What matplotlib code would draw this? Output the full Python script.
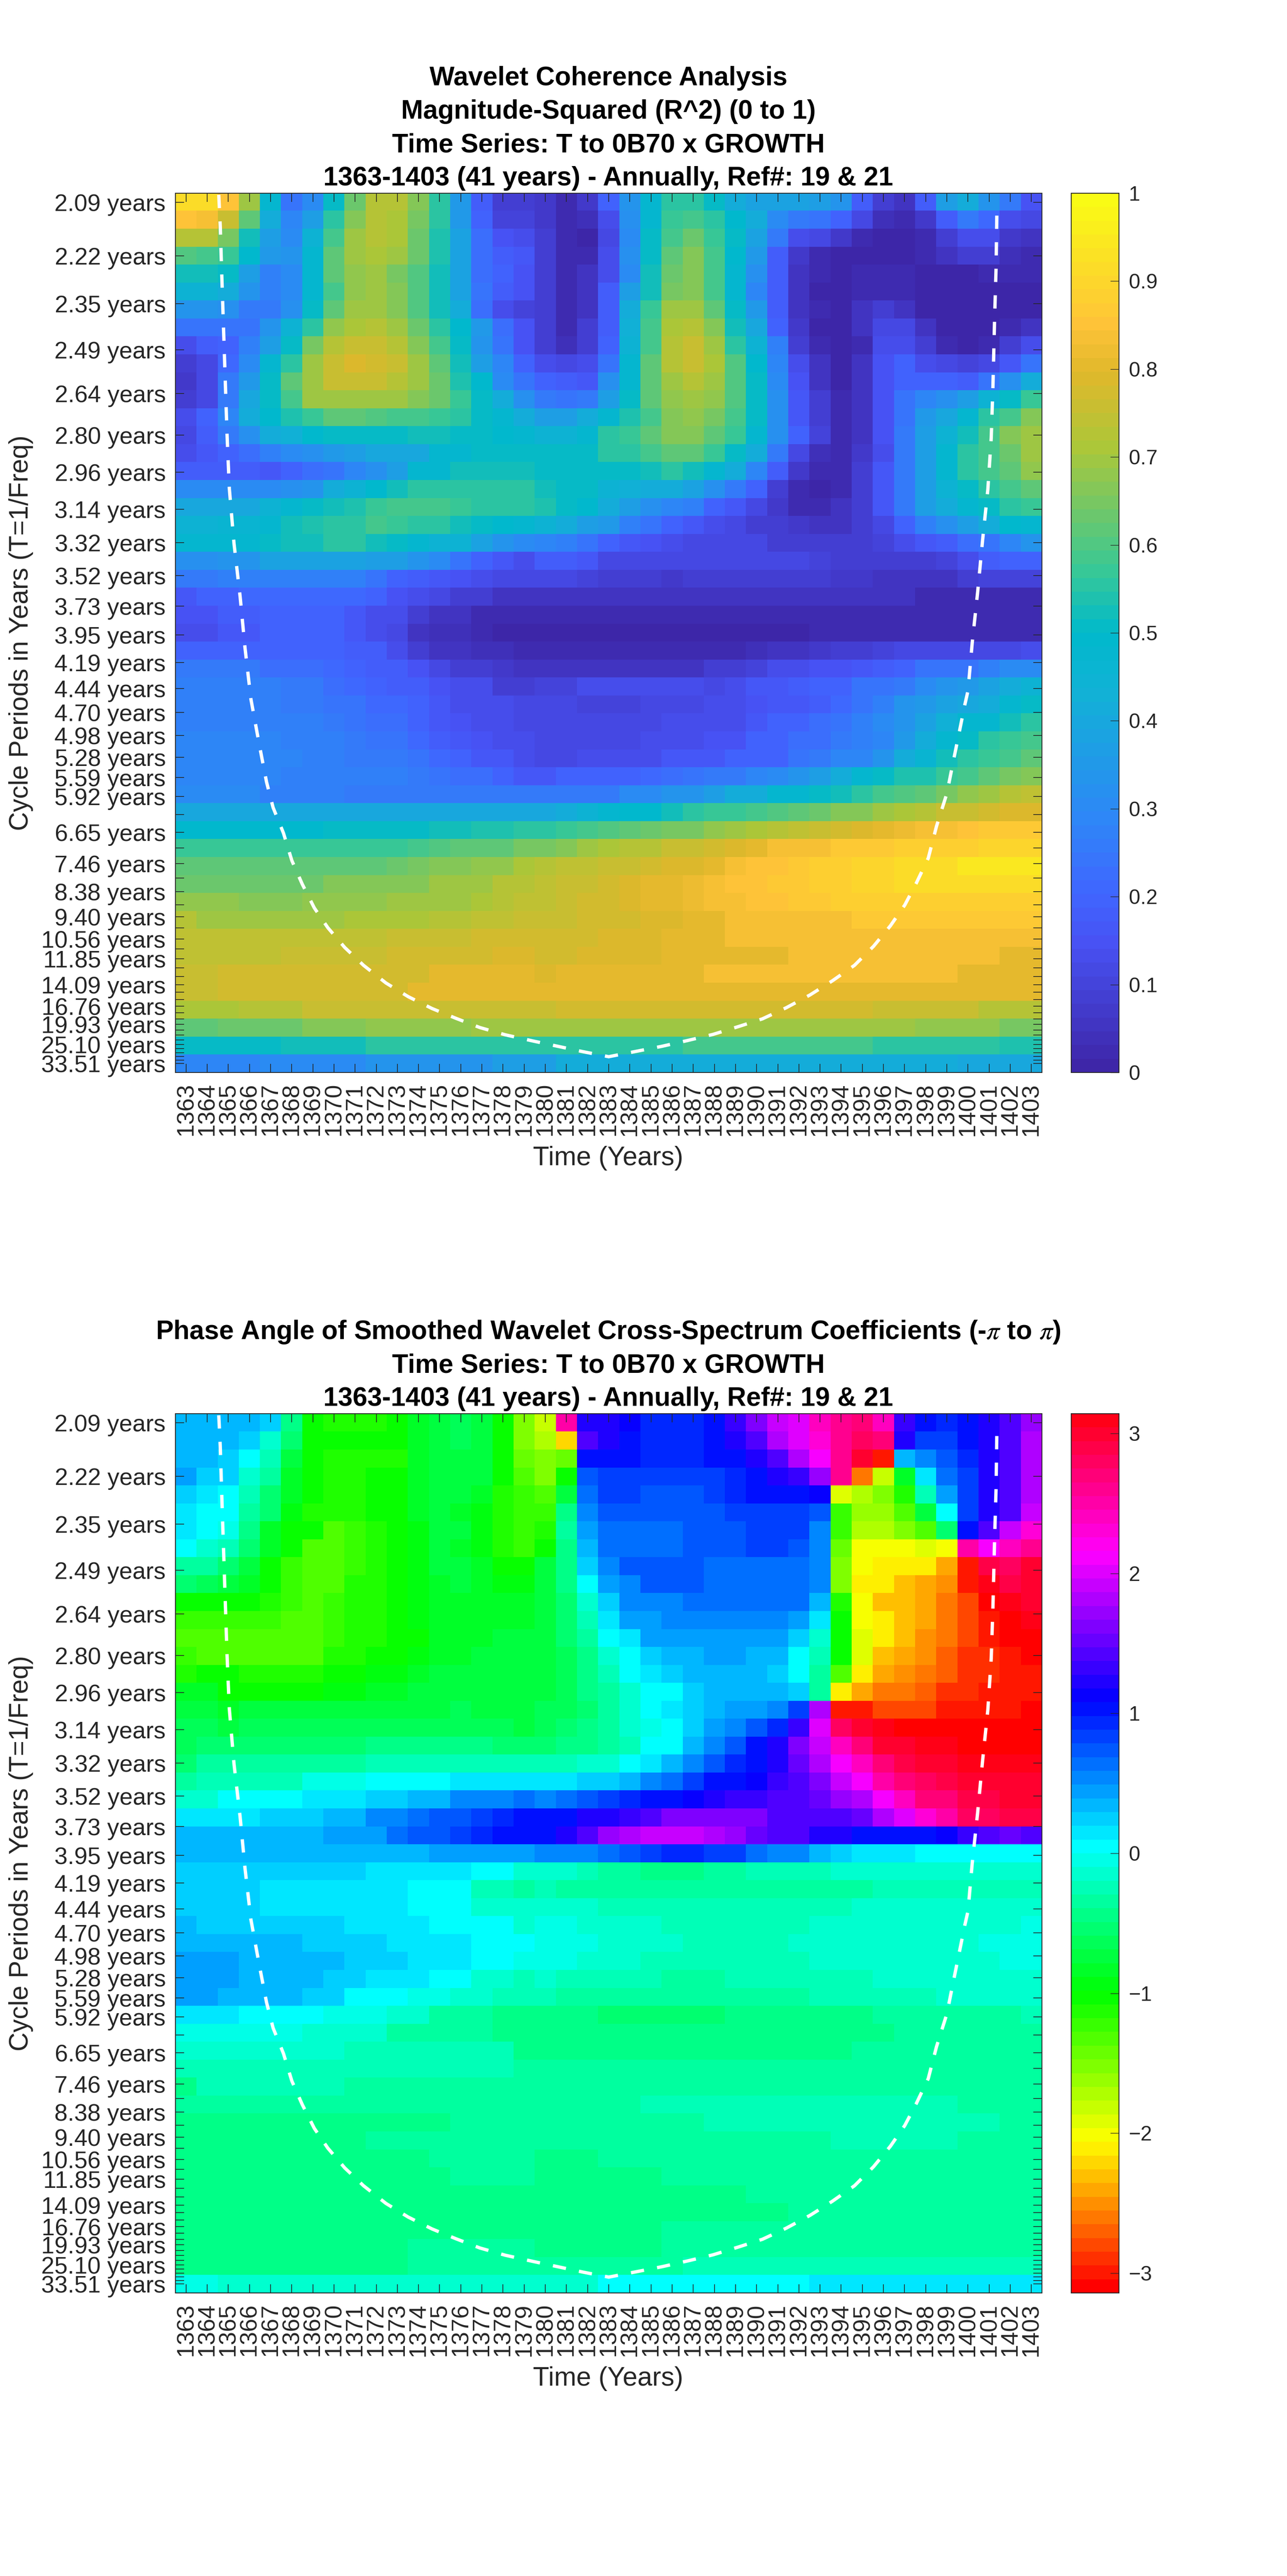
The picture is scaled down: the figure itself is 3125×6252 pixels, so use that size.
import numpy as np
import matplotlib
matplotlib.use('Agg')
import matplotlib.pyplot as plt
from matplotlib.colors import LinearSegmentedColormap

plt.rcParams['font.family'] = ['Liberation Sans', 'DejaVu Sans']
plt.rcParams['mathtext.fontset'] = 'stix'

W, H = 3125, 6252
DARK = (0.15, 0.15, 0.15)

years = list(range(1363, 1404))

# periods of the 49 rows, one semitone apart
periods = [2.09, 2.22, 2.35, 2.49, 2.64, 2.80, 2.96, 3.14, 3.32, 3.52, 3.73, 3.95, 4.19, 4.44, 4.70,
           4.98, 5.28, 5.59, 5.92, 6.27, 6.65, 7.04, 7.46, 7.91, 8.38, 8.88, 9.40, 9.96, 10.56, 11.18,
           11.85, 12.55, 13.30, 14.09, 14.93, 15.82, 16.76, 17.76, 18.81, 19.93, 21.11, 22.37, 23.70,
           25.10, 26.59, 28.17, 29.85, 31.62, 33.51]
shown_periods = [2.09, 2.22, 2.35, 2.49, 2.64, 2.80, 2.96, 3.14, 3.32, 3.52, 3.73, 3.95, 4.19, 4.44,
                 4.70, 4.98, 5.28, 5.59, 5.92, 6.65, 7.46, 8.38, 9.40, 10.56, 11.85, 14.09, 16.76,
                 19.93, 25.10, 33.51]

# cone of influence (year, frequency)
coi_years = [1364.55, 1364.62, 1364.70, 1364.78, 1364.86, 1364.94, 1365.05, 1365.27, 1365.56, 1365.79,
             1366.07, 1366.48, 1366.81, 1367.12, 1367.61, 1368.01, 1368.50, 1369.07, 1369.71, 1370.51,
             1371.40, 1372.46, 1373.51, 1374.64, 1375.77, 1376.90, 1378.11, 1379.41, 1381.79, 1383.0,
             1384.21, 1385.51, 1386.72, 1387.93, 1389.14, 1390.27, 1391.40, 1392.53, 1393.58, 1394.63,
             1395.53, 1396.33, 1397.01, 1397.55, 1398.12, 1398.51, 1399.0, 1399.33, 1399.62, 1399.85,
             1400.0, 1400.2, 1400.46, 1400.69, 1400.94, 1401.1, 1401.18, 1401.26, 1401.33, 1401.37]
coi_freq = [.4823, .4662, .4379, .4111, .3845, .3579, .3293, .3008, .2731, .2465,
            .2197, .1952, .1765, .1632, .1499, .1355, .1233, .1109, .1006, .0903,
            .0810, .0718, .0647, .0585, .0534, .0486, .0448, .0416, .0360, .0334,
            .0360, .0388, .0418, .0450, .0491, .0531, .0589, .0656, .0729, .0810,
            .0909, .1016, .1124, .1237, .1368, .1534, .1705, .1886, .2042, .2167,
            .2240, .2489, .2757, .3023, .3289, .3557, .3823, .4180, .4446, .4765]

coh_ticks = [0, .1, .2, .3, .4, .5, .6, .7, .8, .9, 1]
coh_ticklabels = ['0', '0.1', '0.2', '0.3', '0.4', '0.5', '0.6', '0.7', '0.8', '0.9', '1']
phase_ticks = [-3, -2, -1, 0, 1, 2, 3]
phase_ticklabels = ['\u22123', '\u22122', '\u22121', '0', '1', '2', '3']

# R^2 in percent, row = period, column = year
coherence = [
    [91,91,85,69,48,24,30,50,64,72,72,67,55,35,18,9,8, 7,3,7,19,34,48,56,56,51,42,39,38,38,37,33,18,9,6,18,37,42,33,25,15],
    [85,83,76,61,42,29,37,56,67,72,71,65,55,35,20,10,10, 7,2,4,14,32,48,57,59,56,49,41,30,25,24,19,12,4,3,7,18,25,21,14,11],
    [72,72,65,53,36,31,44,59,69,72,71,63,54,38,22,15,14, 9,2,1,12,31,50,59,63,57,50,38,25,14,11,7,3,1,1,3,8,14,13,7,6],
    [60,59,57,49,35,33,47,61,69,71,69,63,54,39,22,18,16, 8,2,3,13,32,51,61,67,58,49,35,18,7,3,1,1,1,1,2,5,8,8,4,3],
    [53,53,50,36,27,31,47,61,68,69,65,60,53,39,23,19,15, 9,3,5,14,31,53,63,67,58,47,32,18,6,2,1,2,3,2,1,1,1,3,2,2],
    [44,44,41,33,27,31,47,59,68,69,67,60,52,38,24,18,15, 8,2,6,18,37,53,65,67,58,47,29,18,6,0,0,2,3,2,1,1,1,1,1,1],
    [33,33,32,25,25,32,51,62,69,69,66,60,53,41,22,14,10, 8,2,6,18,41,57,70,70,62,51,35,18,6,2,0,5,8,6,0,0,0,1,1,1],
    [24,24,24,24,33,44,56,68,71,72,69,63,56,49,35,22,15, 9,3,8,18,43,59,71,73,66,53,40,19,7,1,0,5,11,11,6,0,0,1,2,6],
    [14,18,20,27,36,51,65,73,75,75,72,66,59,50,33,24,15, 9,4,9,20,44,59,73,76,69,56,44,28,8,2,0,3,14,14,8,2,1,2,8,14],
    [8,12,21,31,47,56,70,76,79,78,75,70,62,52,36,29,19, 14,11,14,24,48,62,72,76,71,60,49,29,14,5,0,6,15,19,14,11,10,12,17,24],
    [7,11,26,35,50,61,69,76,76,75,72,69,63,54,49,30,24, 19,18,16,32,48,61,69,73,69,60,50,30,15,6,0,6,15,20,20,19,18,24,32,41],
    [8,12,26,40,51,59,69,70,70,70,69,66,63,57,50,41,32, 26,24,26,36,51,61,68,70,68,60,50,32,17,8,2,6,15,24,29,32,37,44,50,57],
    [14,19,29,41,49,54,57,61,61,60,59,59,57,55,51,47,41, 36,37,41,48,54,59,66,68,65,59,50,32,17,9,2,6,15,24,35,40,47,55,59,66],
    [12,18,25,32,41,43,49,50,50,51,51,52,52,50,50,49,48, 44,44,47,55,57,62,66,66,62,57,48,32,20,10,3,6,15,25,37,44,52,59,66,70],
    [14,16,20,23,27,30,32,35,36,40,40,40,47,48,50,50,50, 50,50,50,55,56,59,61,61,57,50,41,26,12,4,2,7,14,25,36,47,55,59,64,69],
    [18,18,18,18,16,19,22,24,29,32,36,47,48,52,52,52,53, 51,50,50,50,51,53,55,52,48,41,29,18,7,2,2,8,16,25,37,47,55,59,62,68],
    [30,30,31,31,31,32,34,41,44,49,52,55,55,55,55,55,55, 53,50,50,44,43,42,42,38,32,25,19,8,2,1,2,8,16,25,37,44,50,55,59,62],
    [40,40,40,40,44,48,50,53,54,57,58,58,58,57,56,56,55, 54,50,49,41,36,32,29,27,20,17,12,7,3,3,6,9,16,25,36,42,47,50,55,57],
    [44,44,46,46,48,52,54,55,56,58,57,56,55,53,50,49,48, 45,42,37,35,27,24,19,16,14,11,9,8,7,5,6,8,12,20,27,32,36,42,49,48],
    [47,47,48,48,50,52,53,55,55,52,50,47,44,44,38,33,30, 29,27,24,20,16,15,14,12,11,11,11,9,9,9,8,8,10,13,16,18,23,24,29,34],
    [32,32,34,34,38,39,38,38,38,37,36,34,30,24,20,16,14, 18,18,16,12,12,12,12,12,11,11,11,11,11,10,9,9,9,8,8,10,14,18,19,20],
    [26,26,27,27,27,27,27,27,27,24,20,18,16,15,14,12,12, 12,11,10,9,9,9,7,9,9,9,9,8,8,8,7,7,5,5,5,6,8,10,10,10],
    [17,19,20,21,21,21,21,21,21,19,15,13,11,9,8,6,6, 6,6,5,5]+[6]*10+[5]*4+[3]*6,
    [15,15,18,18,19,19,19,19,16,13,13,9,6,5,3,3,3, 3,2,2,2,2,2]+[3]*9+[2]*9,
    [14,14,17,17,19,20,19,19,17,14,11,6,4,4,2,1,0]+[1]*13+[2]*5+[3]*6,
    [20]*8+[18,18,14,9,6,5,4,4,3]+[2]*10+[4,5,6,7,9,9,10,11,11,12,12,12,12,14],
    [25,25,25,25,22,22,22,21,19,18,18,15,11,9,8,7,5, 5,5,5,5,5,5,5,5,8,8,10,13,14,15,15,17,18,20,24,24,24,27,30,30],
    [27,27,27,27,27,25,25,22,21,19,18,18,15,13,13,9,9, 10,10,13,13,13,13,13,13,11,13,16,16,18,20,20,24,24,26,30,33,35,38,42,45],
    [27,27,27,27,27,25,25,24,24,21,21,19,16,14,13,13,12, 12,12,10,10,10,11,11,12,13,13,15,16,17,18,21,24,27,33,35,38,40,41,47,50],
    [28,28,28,28,28,28,27,26,24,23,23,19,17,15,13,13,12, 12,12,12,12,12,12,13,14,14,14,16,20,20,22,24,27,31,34,38,43,48,48,53,55],
    [29,29,29,29,29,28,28,27,25,24,24,21,18,17,15,14,13, 12,12,12,12,12,13,14,14,15,15,19,20,22,22,26,27,29,35,42,47,50,55,57,59],
    [29,29,29,29,29,29,28,27,26,26,26,24,21,19,17,16,13, 12,12,14,14,14,14,16,16,17,20,20,20,24,25,29,29,33,42,46,52,55,57,59,62],
    [29,29,29,29,29,27,27,27,27,27,27,25,24,23,22,20,17, 17,19,19,19,20,21,23,24,25,25,29,31,33,36,41,47,50,54,54,57,59,62,65,67],
    [31,31,31,31,28,28,28,28,26,26,26,26,26,26,26,26,26, 25,25,26,26,30,31,33,34,36,41,42,47,48,51,53,56,58,60,62,65,68,70,73,74],
    [40]*17+[40,41,44,47,49,49,52,55,57,57,58,60,62,63,66,67,70,71,73,75,76,77,79,79],
    [49]*7+[50]*4+[51,53,53,54,54,55, 56,57,58,60,61,63,65,65,68,70,71,72,74,76,77,79,81,82,83,84,85,86,87,87],
    [57]*11+[59,60,61,61,62,65, 65,67,69,71,72,72,75,75,77,79,80,83,83,84,86,87,87,88,88,88,88,90,90,90],
    [62]*10+[64,65,67,67,68,68,71, 72,74,74,75,76,77,79,79,81,83,85,85,87,89,89,90,90,92,92,92,94,94,94,94],
    [64]*7+[66,66,66,67,67,69,69,70,73,73, 74,76,76,78,79,80,80,82,84,85,85,86,87,89,89,90,90,91,91,91,92,92,92,92],
    [68,68,68,67,67,67,68,68,68,68,69,69,69,70,71,72,74, 74,75,77,77,79,80,80,82,83,83,85,85,86,86,88,88,88,89,89,89,89,89,89,89],
    [72,70,70,70,70,70,70,70,71,71,71,71,72,72,74,74,75, 75,75,77,78,78,79,79,81,81,83,83,84,84,84,84]+[86]*9,
    [74]*10+[75,75,75,76,77,77,77, 77,77,77,79,79,79,80,80,80,83,83,83]+[84]*12,
    [74]*5+[75]*5+[77]*5+[79,79, 78,78,79,79,79,79]+[81]*6+[83]*10+[81,81],
    [76,76]+[77]*4+[78]*6+[81]*5+[79]+[81]*7+[83]*12+[81]*4,
    [76,76]+[77]*4+[78]*5+[81]*6+[80,80]+[81]*17+[80]*5,
    [71]*3+[73]*3+[75]*5+[76]*6+[76]+[77]*15+[75]*5+[73]*3,
    [61,61]+[64]*4+[66]*3+[68]*5+[69]*3+[70]*18+[68]*4+[65,65],
    [50,50]+[51]*3+[53]*4+[55]*4+[56]*4+[56]*7+[58]*9+[56]*6+[54,54],
    [29]*4+[31]*5+[33]*3+[34]*3+[36,36]+[37]+[41]*19+[40]*4,
]

# phase in radians, row = period, column = year
phase = [
    [.35,.35,.35,.35,.2,-.4,-1.05,-1.1,-1.1,-1.1,-1.0,-.8,-.7,-.6,-.7,-1.05,-1.55, -1.83,2.5,1.25,1.2,1.1,.95,.95,.95,1.05,1.3,1.6,1.95,2.0,2.4,2.6,2.7,2.45,1.35,1.0,.9,1.05,1.2,1.45,1.75],
    [.35,.35,.35,.25,-.1,-.5,-1.05,-1.05,-1.05,-1.05,-1.05,-.8,-.7,-.6,-.7,-1.05,-1.5, -1.75,-2.2,1.4,1.2,1.05,.95,.95,.95,1.05,1.25,1.45,1.85,2.0,2.35,2.6,2.8,2.7,1.25,.85,.85,1.0,1.2,1.45,1.85],
    [.35,.35,.25,0,-.2,-.7,-1.05,-1.1,-1.1,-1.1,-1.1,-.8,-.7,-.7,-.7,-1.05,-1.4, -1.55,-1.4,1.05,1.0,1.0,.95,.95,.95,1.0,1.05,1.2,1.4,1.85,2.1,2.6,2.95,-2.95,.35,.55,.7,.95,1.2,1.45,1.85],
    [.4,.25,.2,-.1,-.35,-.8,-1.05,-1.1,-1.1,-1.05,-1.05,-.85,-.75,-.7,-.7,-1.0,-1.3, -1.5,-1.05,.7,.85,.8,.8,.8,.8,.85,.95,1.05,1.25,1.3,1.7,2.6,-2.6,-1.8,-.8,.1,.65,.85,1.2,1.45,1.85],
    [.25,.15,.05,-.2,-.5,-.85,-1.05,-1.1,-1.1,-1.05,-1.05,-.85,-.75,-.75,-.85,-1.1,-1.25, -1.3,-.7,.65,.8,.8,.7,.7,.7,.85,.95,1.0,1.05,1.05,1.15,-1.9,-1.75,-1.5,-1.15,-.25,.4,.8,1.2,1.45,1.85],
    [.15,.05,.05,-.3,-.55,-.95,-1.1,-1.15,-1.1,-1.05,-1.05,-.85,-.75,-.8,-.95,-1.15,-1.25, -1.25,-.45,.55,.7,.7,.7,.7,.7,.7,.8,.85,.85,.85,.7,-1.2,-1.6,-1.6,-1.3,-.7,.05,.8,1.2,1.45,1.9],
    [.15,0,-.05,-.4,-.8,-1.0,-1.0,-1.3,-1.25,-1.1,-1.05,-.9,-.75,-.75,-.9,-1.1,-1.2, -1.15,-.35,.45,.65,.65,.65,.65,.75,.75,.75,.85,.85,.85,.55,-1.25,-1.7,-1.7,-1.55,-1.3,-.5,1.05,1.45,1.9,2.35],
    [0,-.1,-.2,-.5,-.85,-1.05,-1.35,-1.35,-1.25,-1.1,-1.05,-.9,-.75,-.8,-.95,-1.15,-1.2, -1.05,-.4,.35,.65,.65,.65,.65,.75,.75,.75,.85,.85,.75,.55,-1.45,-2.0,-2.0,-2.0,-1.9,-2.0,2.55,2.1,2.4,2.6],
    [-.3,-.3,-.5,-.7,-1.05,-1.2,-1.3,-1.3,-1.2,-1.1,-1.05,-.9,-.75,-.75,-.85,-1.0,-1.05, -.7,-.4,.2,.55,.7,.7,.7,.7,.65,.65,.65,.65,.65,.55,-1.5,-2.05,-2.15,-2.15,-2.15,-2.45,-3.0,2.9,2.75,2.95],
    [-.5,-.6,-.7,-.85,-1.05,-1.2,-1.3,-1.3,-1.15,-1.1,-1.05,-.9,-.8,-.75,-.85,-.9,-.95, -.7,-.4,0,.4,.55,.7,.7,.7,.65,.65,.65,.65,.65,.55,-1.5,-2.15,-2.15,-2.3,-2.4,-2.55,-2.95,3.14,2.9,2.95],
    [-1.05,-1.05,-1.05,-1.05,-1.15,-1.25,-1.3,-1.2,-1.15,-1.1,-1.05,-.95,-.85,-.8,-.8,-.85,-.85, -.7,-.55,-.1,.2,.5,.5,.55,.65,.65,.65,.65,.65,.6,.35,-1.15,-2.05,-2.3,-2.35,-2.45,-2.65,-2.8,-3.05,3.14,2.95],
    [-1.2,-1.2,-1.2,-1.2,-1.2,-1.35,-1.35,-1.2,-1.15,-1.1,-1.05,-.95,-.85,-.8,-.8,-.8,-.85, -.7,-.55,-.25,.1,.4,.45,.55,.55,.55,.55,.55,.55,.45,.1,-1.05,-2.0,-2.1,-2.35,-2.45,-2.65,-2.8,-2.95,-3.05,3.14],
    [-1.35]*7+[-1.2,-1.15,-1.1,-1.05,-1.0,-.85,-.8,-.8,-.75,-.75, -.7,-.55,-.3,0,.15,.4,.45,.45,.45,.45,.45,.45,.25,-.1,-1.05,-1.9,-2.1,-2.35,-2.55,-2.65,-2.8,-2.95,-3.05,-3.05],
    [-1.2]+[-1.3]*6+[-1.15,-1.1,-1.05,-1.05,-.95,-.85,-.8,-.75,-.75,-.75, -.7,-.6,-.45,-.1,.05,.2,.35,.35,.4,.4,.3,.3,.05,-.2,-1.05,-1.9,-2.3,-2.45,-2.55,-2.7,-2.85,-2.85,-2.95,-3.05],
    [-1.1,-1.05,-1.05,-1.15,-1.15,-1.15,-1.15,-1.05,-1.05,-.9,-.9,-.8,-.75,-.75,-.75,-.75,-.75, -.7,-.6,-.45,-.2,0,.1,.2,.3,.3,.3,.3,.2,.05,-.3,-1.35,-2.1,-2.45,-2.55,-2.65,-2.7,-2.85,-2.85,-2.95,-2.95],
    [-.8,-.85]+[-1.0]*5+[-.95,-.9,-.8,-.8,-.75,-.7,-.7,-.75,-.75,-.75, -.7,-.6,-.45,-.3,-.1,.05,.05,.25,.3,.3,.3,.3,.2,-.3,-2.1,-2.45,-2.65,-2.65,-2.7,-2.85,-2.85,-2.95,-2.95,-2.95],
    [-.75,-.75,-.8]+[-.75]*6+[-.7,-.7,-.7,-.7,-.65,-.7,-.7,-.7, -.65,-.6,-.5,-.35,-.1,0,.1,.25,.3,.4,.4,.55,.8,1.85,-3.0,-2.95,-2.8,-2.8,-2.8,-2.95,-2.95,-2.95,-2.95,-3.05],
    [-.6,-.65,-.7,-.65,-.65]+[-.6]*10+[-.65,-.7, -.6,-.55,-.45,-.3,-.15,-.05,.05,.25,.4,.5,.7,.95,1.3,2.05,2.8,2.95,3.14]+[-3.05]*7,
    [-.6]+[-.5]*8+[-.4]*5+[-.45,-.5,-.5, -.5,-.45,-.4,-.35,-.25,0,.05,.35,.5,.75,1.05,1.2,1.6,1.95,2.4,2.7,2.95,3.0,3.14,3.14,-3.05,-3.05,-3.05,-3.05],
    [-.5,-.35,-.35,-.35,-.35,-.35,-.3,-.3,-.3,-.2,-.2,-.2,-.2,-.2,-.2,-.25,-.2, -.2,-.2,-.1,-.1,0,.1,.3,.5,.7,.95,1.05,1.2,1.5,1.8,2.1,2.45,2.7,2.85,3.0,3.0,3.14,3.14,3.14,3.14],
    [-.3,-.2,-.2,-.2,-.2,-.2,-.05,-.05,-.05,0,0,0,0,.1,.1,.1,.1, .1,.1,.2,.2,.35,.5,.6,.85,1.05,1.05,1.15,1.3,1.4,1.6,1.9,2.1,2.5,2.7,2.75,2.85,3.0,3.0,3.0,3.0],
    [-.1,-.1,0,0,0,0,.1,.1,.1,.25,.25,.35,.35,.55,.55,.55,.6, .55,.65,.7,.8,.95,1.05,1.05,1.15,1.25,1.35,1.35,1.4,1.4,1.5,1.7,1.85,2.1,2.4,2.7,2.7,2.85,2.85,3.0,3.0],
    [.1,.1,.1,.1,.25,.25,.25,.35,.35,.5,.5,.65,.7,.7,.85,.95,1.05, 1.05,1.05,1.2,1.25,1.35,1.4,1.6,1.6,1.6,1.6,1.6,1.45,1.45,1.45,1.45,1.5,1.85,2.0,2.35,2.5,2.8,2.8,2.9,2.9],
    [.35]*7+[.45,.45,.45,.65,.75,.75,.85,.95,1.05,1.05, 1.05,1.2,1.45,1.7,1.85,1.9,1.9,1.9,1.8,1.7,1.5,1.4,1.4,1.25,1.2,1.05,1.05,1.05,1.05,1.1,1.35,1.45,1.5,1.4],
    [.35]*12+[.45]*5+[.5,.5,.5,.6,.75,.85,.95,.95,.85,.8,.65,.5,.5,.35,.25,.1,.1,.1]+[0]*6,
    [.25]*9+[.1]*5+[0,0,-.1, -.15,-.15,-.2,-.35,-.35,-.45,-.45,-.45,-.35,-.35,-.25,-.25,-.25,-.2,-.15,-.15,-.15,-.15,-.15,-.15,-.1,-.1,-.1,-.1],
    [.2]*4+[.1]*7+[0]*3+[-.2,-.2,-.3]+[-.25]+[-.3]*3+[-.35]*8+[-.3]*4+[-.2]*8,
    [.2]*4+[.1]*7+[0]*3+[-.15]*3+[-.15]*3+[-.25]*12+[-.15]*9,
    [.3]+[.2]*7+[.1]*4+[0]*4+[-.1]+[-.05,-.05]+[-.12]*4+[-.25]*7+[-.15]*10+[-.06],
    [.35]*6+[.2]*4+[.1]*4+[0]*3+[-.05]*3+[-.12]*4+[-.25]*5+[-.15]*9+[-.08]*3,
    [.45]*3+[.35]*5+[.2]*3+[.1]*3+[0,0,-.05]+[-.05,-.05]+[-.12]*3+[-.25]*8+[-.17]*9+[-.08,-.08],
    [.45]*3+[.35]*4+[.2]*2+[.1]*3+[0]*2+[-.1]*2+[-.2]+[-.15]+[-.25]*5+[-.35]*3+[-.25]*7+[-.15]*8,
    [.45]*2+[.3]*4+[.2]*2+[.03]*3+[-.05]*2+[-.15]*2+[-.25]*2+[-.25]+[-.35]*12+[-.25]*6+[-.15]*5,
    [.12]*3+[0]*4+[-.08]*3+[-.15]*2+[-.3]*3+[-.4]*2+[-.4]*3+[-.5]*6+[-.4]*4+[-.45]*3+[-.3]*7+[-.2],
    [-.03]*6+[-.12]*4+[-.3]*5+[-.4]*2+[-.42]*17+[-.3]*7,
    [-.15]*8+[-.25]*8+[-.4]+[-.42]*15+[-.3]*9,
    [-.2]*14+[-.25]*2+[-.3]+[-.32]*24,
    [-.4]+[-.25]*7+[-.3]*9+[-.32]*24,
    [-.35]*8+[-.32]*9+[-.32]*5+[-.22]*15+[-.3]*4,
    [-.45]*5+[-.4]*8+[-.32]*4+[-.32]*8+[-.22]*14+[-.3]*2,
    [-.47]*9+[-.38]*8+[-.32]*14+[-.22]*6+[-.3]*4,
    [-.47]*12+[-.38]*5+[-.42]*3+[-.32]*21,
    [-.47]*13+[-.38]*4+[-.42]*6+[-.32]*18,
    [-.47]*14+[-.4]*3+[-.42]*10+[-.32]*14,
    [-.47]*13+[-.4]*4+[-.42]*12+[-.32]*12,
    [-.47]*11+[-.4]*6+[-.42]*6+[-.38]*6+[-.32]*12,
    [-.42]*11+[-.35]*6+[-.42]*6+[-.32]*18,
    [-.42]*11+[-.3]*6+[-.38]*7+[-.22]*17,
    [-.03]*2+[-.12]*15+[-.1]*3+[0]*10+[.1]*11,
]

# matlab parula, old version
parula = LinearSegmentedColormap.from_list('parula', [
    (0.0, (.2422, .1504, .6603)), (.143, (.2810, .3228, .9579)), (.2, (.25, .40, 1.0)),
    (.286, (.1786, .5289, .9682)), (.43, (.0689, .6948, .8394)), (.5, (0, .725, .80)),
    (.571, (.2161, .7843, .5923)), (.714, (.6720, .7793, .2227)), (.80, (.88, .72, .17)),
    (.857, (.9970, .7659, .2199)), (1.0, (.9769, .9839, .0805))], N=64)
hsv64 = plt.get_cmap('hsv', 64)

freqs = 1 / np.array(periods)
step = (freqs[0] - freqs[-1]) / (len(freqs) - 1)
ytop = freqs[0] + step / 2
ybot = freqs[-1] - step / 2


def rect(x0, y0, x1, y1):
    return [x0 / W, 1 - y1 / H, (x1 - x0) / W, (y1 - y0) / H]


def panel(top, data, cmap, vmin, vmax, ticks, ticklabels, title_lines):
    ax = fig.add_axes(rect(426, top, 2530, top + 2134))
    im = ax.imshow(np.array(data), cmap=cmap, vmin=vmin, vmax=vmax, aspect='auto',
                   interpolation='nearest',
                   extent=(years[0] - .5, years[-1] + .5, ybot, ytop))
    ax.plot(coi_years, coi_freq, color='white', lw=5.8, dashes=(4, 4), dash_capstyle='butt')
    ax.set_xlim(years[0] - .5, years[-1] + .5)
    ax.set_ylim(ybot, ytop)

    ax.set_xticks(years)
    ax.set_xticklabels([str(y) for y in years], rotation=90)
    ax.set_yticks(freqs)
    ax.set_yticklabels(['%.2f years' % p if p in shown_periods else '' for p in periods])
    ax.tick_params(axis='both', direction='in', length=15, width=1.3, color=DARK,
                   labelcolor=DARK, labelsize=41.6, top=True, right=True)
    ax.tick_params(axis='x', pad=18)
    ax.tick_params(axis='y', pad=17)
    for s in ax.spines.values():
        s.set_linewidth(1.5)
        s.set_color(DARK)

    cax = fig.add_axes(rect(2601, top, 2717, top + 2134))
    cb = fig.colorbar(im, cax=cax, ticks=ticks)
    cb.set_ticklabels(ticklabels)
    cax.tick_params(direction='in', length=15, width=1.0, color=DARK, labelcolor=DARK,
                    labelsize=36, pad=17)
    cb.outline.set_linewidth(1.5)
    cb.outline.set_edgecolor(DARK)

    # title lines stacked up from the top of the axes
    n = len(title_lines)
    for i, line in enumerate(title_lines):
        py = top - 19 - 81 * (n - 1 - i)
        fig.text(1477 / W, 1 - py / H, line, ha='center', va='baseline', fontsize=46.2,
                 fontweight='bold', color='black')

    fig.text(1477 / W, 1 - (top + 2359) / H, 'Time (Years)', ha='center', va='baseline',
             fontsize=46.5, color=DARK)
    fig.text(68 / W, 1 - (top + 1067) / H, 'Cycle Periods in Years (T=1/Freq)', rotation=90,
             ha='center', va='baseline', rotation_mode='anchor', fontsize=46, color=DARK)


fig = plt.figure(figsize=(W / 100, H / 100), dpi=100)

panel(469, np.array(coherence) / 100, parula, 0, 1, coh_ticks, coh_ticklabels,
      ['Wavelet Coherence Analysis', 'Magnitude-Squared (R^2) (0 to 1)',
       'Time Series: T to 0B70 x GROWTH', '1363-1403 (41 years) - Annually, Ref#: 19 & 21'])
panel(3431, phase, hsv64, -np.pi, np.pi, phase_ticks, phase_ticklabels,
      [r'Phase Angle of Smoothed Wavelet Cross-Spectrum Coefficients (-$\pi$ to $\pi$)',
       'Time Series: T to 0B70 x GROWTH', '1363-1403 (41 years) - Annually, Ref#: 19 & 21'])

fig.savefig('out.png', dpi=100, facecolor='white')
